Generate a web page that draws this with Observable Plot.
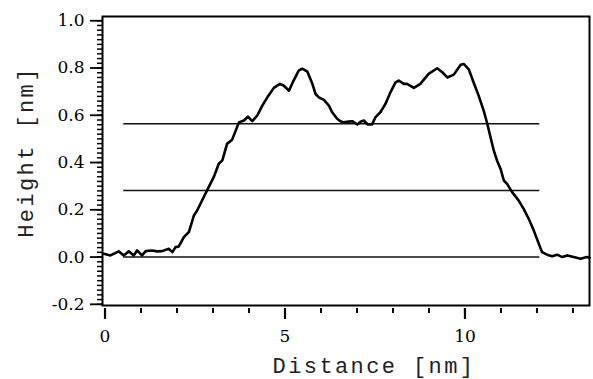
<!DOCTYPE html>
<html>
<head>
<meta charset="utf-8">
<script src="https://cdn.jsdelivr.net/npm/d3@7"></script>
<script src="https://cdn.jsdelivr.net/npm/@observablehq/plot@0.6"></script>
<style>
  body { margin: 0; background: #fff; }
</style>
</head>
<body>
<div id="chart"></div>
<script>
// Height profile along the scan line (nm)
const distanceNm = [-0.03,0.15,0.38,0.52,0.66,0.80,0.89,1.03,1.13,1.31,1.45,1.59,1.77,1.87,1.96,2.05,2.19,2.33,2.47,2.56,2.74,2.88,3.02,3.16,3.26,3.39,3.53,3.72,3.86,3.97,4.09,4.23,4.37,4.51,4.69,4.86,4.97,5.11,5.24,5.38,5.48,5.62,5.76,5.85,5.94,6.08,6.22,6.31,6.45,6.54,6.63,6.77,6.87,7.01,7.10,7.19,7.30,7.42,7.51,7.65,7.79,7.93,8.07,8.16,8.30,8.39,8.58,8.76,8.99,9.23,9.37,9.51,9.69,9.88,9.97,10.11,10.24,10.38,10.52,10.62,10.71,10.80,10.89,10.99,11.08,11.17,11.31,11.49,11.63,11.77,11.91,12.05,12.14,12.28,12.42,12.56,12.70,12.84,13.02,13.21,13.38,13.46];
const heightNm = [0.014,0.007,0.024,0.007,0.024,0.007,0.028,0.007,0.025,0.028,0.024,0.025,0.035,0.021,0.042,0.045,0.084,0.106,0.176,0.197,0.253,0.296,0.338,0.395,0.409,0.479,0.496,0.570,0.578,0.594,0.575,0.599,0.641,0.676,0.716,0.733,0.725,0.704,0.747,0.789,0.797,0.785,0.733,0.690,0.676,0.665,0.641,0.613,0.585,0.575,0.570,0.573,0.575,0.561,0.573,0.578,0.561,0.561,0.591,0.613,0.648,0.697,0.739,0.747,0.733,0.733,0.716,0.733,0.775,0.799,0.782,0.760,0.772,0.814,0.817,0.793,0.739,0.683,0.620,0.564,0.507,0.451,0.409,0.373,0.324,0.310,0.275,0.240,0.204,0.162,0.113,0.057,0.021,0.010,0.003,0.010,0.000,0.007,0.000,-0.007,0.000,-0.003];

// Reference levels: baseline, half height and full step height
const levelHeights = [0, 0.282, 0.564];
const levelStart = 0.52;
const levelEnd = 12.08;

// Axis ticks
const xMajorTicks = [0, 5, 10];
const xMinorTicks = d3.range(0, 14);
const yMajorTicks = [-0.2, 0, 0.2, 0.4, 0.6, 0.8, 1.0];
const yMinorTicks = d3.range(-10, 51).map(i => i / 50);

const profile = distanceNm.map((d, i) => ({distance: d, height: heightNm[i]}));

const chart = Plot.plot({
  width: 593,
  height: 379,
  marginLeft: 102,
  marginRight: 4,
  marginTop: 16,
  marginBottom: 74,
  style: {background: "#fff", color: "#000", fontFamily: "DejaVu Serif", fontSize: "17px"},
  x: {domain: [-0.07, 13.46], label: null},
  y: {domain: [-0.205, 1.018], label: null},
  marks: [
    Plot.ruleY(levelHeights, {x1: levelStart, x2: levelEnd, stroke: "#111", strokeWidth: 1.5}),
    Plot.line(profile, {x: "distance", y: "height", stroke: "#000", strokeWidth: 2.6, strokeLinejoin: "round", strokeLinecap: "round"}),
    Plot.frame({stroke: "#000", strokeWidth: 2}),
    Plot.axisY(yMinorTicks, {tickSize: 5, tickFormat: () => "", strokeWidth: 1.5, label: null}),
    Plot.axisY(yMajorTicks, {tickSize: 12, tickPadding: 6, tickFormat: d => d.toFixed(1), strokeWidth: 1.8, label: null}),
    Plot.axisX(xMinorTicks, {tickSize: 5, dy: 3, tickFormat: () => "", strokeWidth: 2, label: null}),
    Plot.axisX(xMajorTicks, {tickSize: 11, dy: 3, tickPadding: 10, tickFormat: d => String(d), strokeWidth: 2.2, label: null})
  ]
});

const svg = d3.select(chart);
const titleStyle = sel => sel
  .attr("font-family", "'Liberation Mono', monospace")
  .attr("font-size", 22)
  .attr("letter-spacing", "2.4px")
  .attr("fill", "#222")
  .attr("text-anchor", "middle");

svg.append("text")
  .call(titleStyle)
  .attr("x", 374)
  .attr("y", 373)
  .text("Distance [nm]");

svg.append("text")
  .call(titleStyle)
  .attr("transform", "translate(33,152) rotate(-90)")
  .text("Height [nm]");

document.getElementById("chart").appendChild(chart);
</script>
</body>
</html>
